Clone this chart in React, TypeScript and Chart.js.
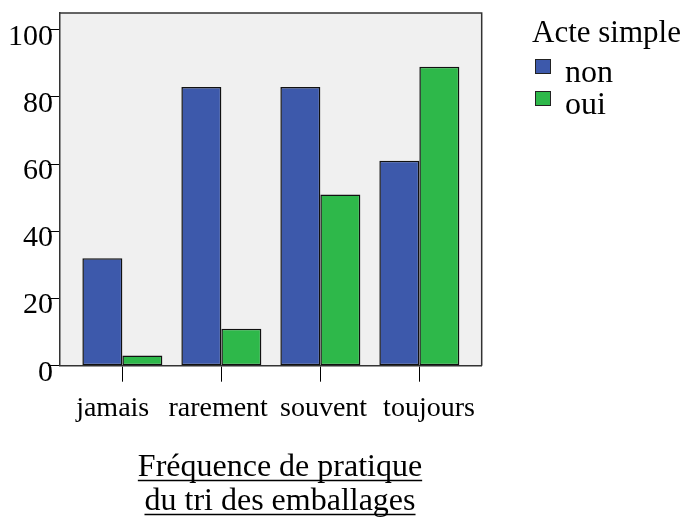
import React, { useEffect, useRef } from "react";
import { Chart, registerables } from "chart.js";

Chart.register(...registerables);

const categories = ["jamais", "rarement", "souvent", "toujours"];
const seriesLabels = ["non", "oui"];
const nonValues = [32, 83, 83, 61];
const ouiValues = [3, 11, 51, 89];
const yTickValues = [0, 20, 40, 60, 80, 100];
const legendTitle = "Acte simple";
const axisTitleLines = ["Fréquence de pratique", "du tri des emballages"];

const SERIF = '"Liberation Serif", "Times New Roman", serif';
const BLUE = "#3d59ab";
const GREEN = "#2eb84a";
const FRAME = "#333333";

const plotBoxPlugin = {
  id: "plotBox",
  beforeDraw(chart: any) {
    const { ctx, chartArea: a } = chart;
    ctx.save();
    ctx.fillStyle = "#f0f0f0";
    ctx.fillRect(a.left, a.top, a.right - a.left, a.bottom - a.top);
    ctx.restore();
  },
  afterDraw(chart: any) {
    const { ctx, chartArea: a } = chart;
    ctx.save();
    ctx.strokeStyle = FRAME;
    ctx.lineWidth = 1.5;
    ctx.beginPath();
    ctx.moveTo(a.left, a.top);
    ctx.lineTo(a.right, a.top);
    ctx.lineTo(a.right, a.bottom);
    ctx.stroke();
    ctx.restore();
  },
};

const legendPlugin = {
  id: "customLegend",
  afterDraw(chart: any) {
    const { ctx } = chart;
    ctx.save();
    ctx.fillStyle = "#000";
    ctx.textBaseline = "alphabetic";
    ctx.textAlign = "left";
    ctx.font = `31px ${SERIF}`;
    ctx.fillText(legendTitle, 532, 42);
    const rows = [59, 91];
    chart.data.datasets.forEach((ds: any, i: number) => {
      const y = rows[i];
      ctx.fillStyle = ds.backgroundColor;
      ctx.fillRect(535, y, 15, 14);
      ctx.strokeStyle = "#222";
      ctx.lineWidth = 1;
      ctx.strokeRect(535.5, y + 0.5, 15, 14);
      ctx.fillStyle = "#000";
      ctx.font = `32px ${SERIF}`;
      ctx.fillText(ds.label, 565, y + 22.5);
    });
    ctx.restore();
  },
};

const axisTitlePlugin = {
  id: "axisTitle",
  afterDraw(chart: any) {
    const { ctx } = chart;
    ctx.save();
    ctx.fillStyle = "#000";
    ctx.strokeStyle = "#000";
    ctx.font = `32px ${SERIF}`;
    ctx.textAlign = "center";
    ctx.textBaseline = "alphabetic";
    const cx = 280;
    const baselines = [476, 510];
    axisTitleLines.forEach((line, i) => {
      const b = baselines[i];
      ctx.fillText(line, cx, b);
      const w = ctx.measureText(line).width;
      ctx.lineWidth = 1.5;
      ctx.beginPath();
      ctx.moveTo(cx - w / 2, b + 4.5);
      ctx.lineTo(cx + w / 2, b + 4.5);
      ctx.stroke();
    });
    ctx.restore();
  },
};

export default function App() {
  const canvasRef = useRef<HTMLCanvasElement | null>(null);

  useEffect(() => {
    const canvas = canvasRef.current;
    if (!canvas) return;
    const chart = new Chart(canvas, {
      type: "bar",
      data: {
        datasets: [
          {
            label: seriesLabels[0],
            data: nonValues.map((v, i) => ({ x: i, y: v })),
            backgroundColor: BLUE,
            borderColor: "#111111",
            borderWidth: 1.5,
            borderSkipped: false,
          },
          {
            label: seriesLabels[1],
            data: ouiValues.map((v, i) => ({ x: i, y: v })),
            backgroundColor: GREEN,
            borderColor: "#111111",
            borderWidth: 1.5,
            borderSkipped: false,
          },
        ],
      },
      options: {
        responsive: false,
        animation: false,
        devicePixelRatio: 1,
        layout: { padding: { left: 0, top: 9, right: 206.3, bottom: 88.3 } },
        datasets: {
          bar: { categoryPercentage: 80 / 99, barPercentage: 1, grouped: true },
        },
        plugins: {
          legend: { display: false },
          tooltip: { enabled: false },
          title: { display: false },
        },
        scales: {
          x: {
            type: "linear",
            position: "bottom",
            weight: 0,
            min: -0.63,
            max: 3.63,
            offset: false,
            afterBuildTicks: (scale: any) => {
              scale.ticks = categories.map((_, i) => ({ value: i }));
            },
            afterFit: (scale: any) => {
              scale.height = 16;
            },
            grid: {
              display: true,
              offset: false,
              drawOnChartArea: false,
              drawTicks: true,
              tickLength: 16,
              color: "#000",
              lineWidth: 1,
            },
            border: { display: true, color: FRAME, width: 1.5 },
            ticks: { display: false },
          },
          x2: {
            type: "category",
            position: "bottom",
            weight: 1,
            labels: categories,
            offset: true,
            afterFit: (scale: any) => {
              scale.height = 50;
            },
            grid: { display: false, drawTicks: false },
            border: { display: false },
            ticks: {
              padding: 9.7,
              color: "#000",
              maxRotation: 0,
              autoSkip: false,
              font: { family: SERIF, size: 28 },
            },
          },
          y: {
            type: "linear",
            position: "left",
            min: 0,
            max: 105,
            afterBuildTicks: (scale: any) => {
              scale.ticks = yTickValues.map((v) => ({ value: v }));
            },
            afterFit: (scale: any) => {
              scale.width = 60;
            },
            grid: {
              display: true,
              drawOnChartArea: false,
              drawTicks: true,
              tickLength: 12,
              color: "#000",
              lineWidth: 1,
            },
            border: { display: true, color: FRAME, width: 1.5 },
            ticks: {
              padding: -5,
              labelOffset: 7,
              color: "#000",
              font: { family: SERIF, size: 30 },
            },
          },
        },
      },
      plugins: [plotBoxPlugin, legendPlugin, axisTitlePlugin],
    } as any);
    return () => chart.destroy();
  }, []);

  return (
    <div style={{ position: "absolute", left: 0, top: 0, width: 688, height: 520, background: "#fff" }}>
      <canvas ref={canvasRef} width={688} height={520} style={{ display: "block", width: 688, height: 520 }} />
    </div>
  );
}
